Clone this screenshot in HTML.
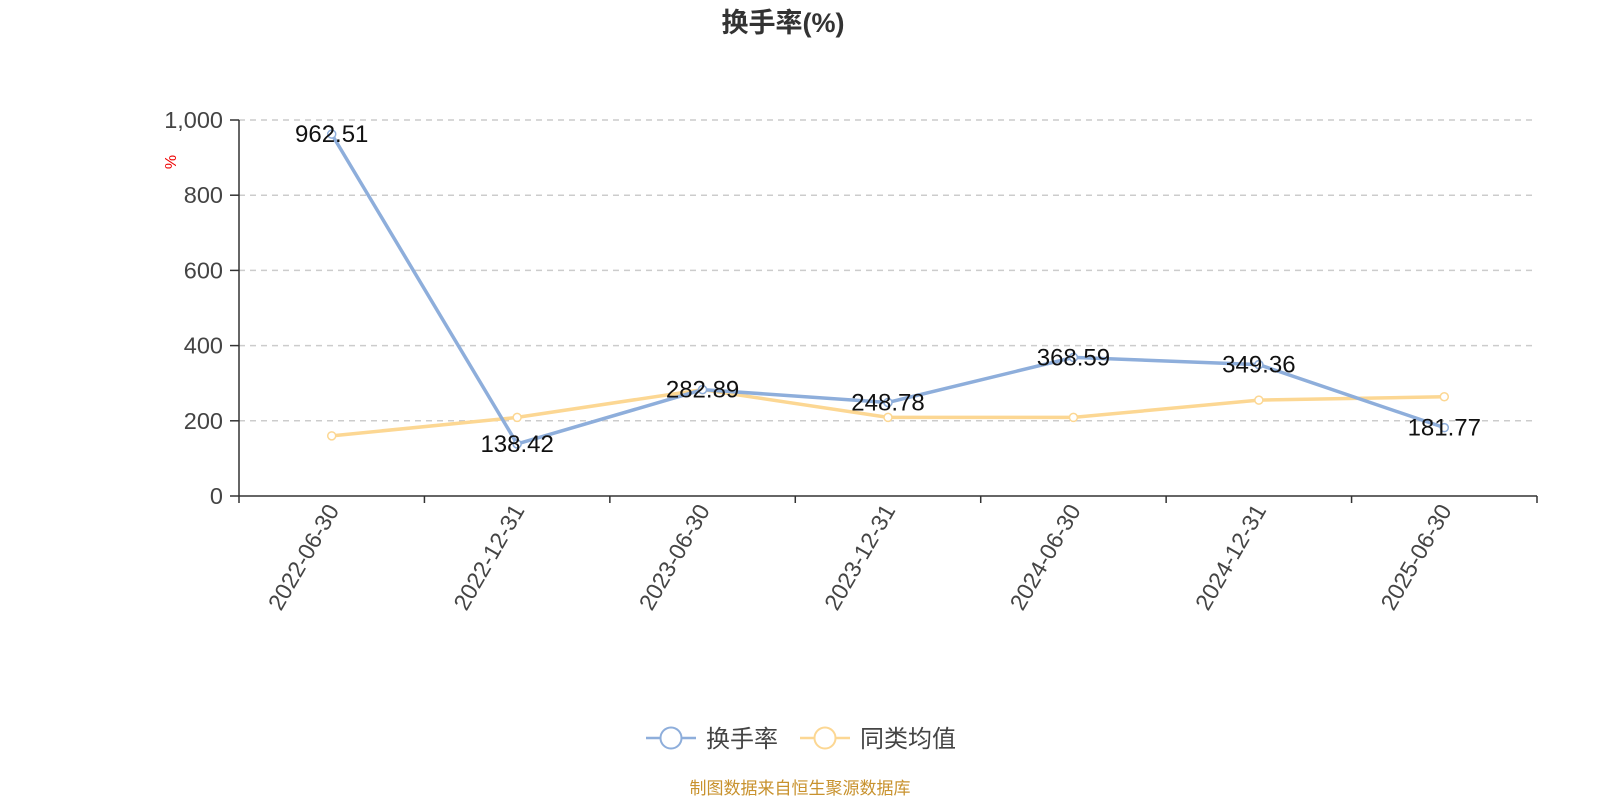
<!DOCTYPE html>
<html><head><meta charset="utf-8"><style>
body{margin:0;background:#fff;}
svg{display:block;font-family:"Liberation Sans","Noto Sans CJK SC",sans-serif;}
</style></head><body>
<svg id="c" width="1600" height="800">
<text x="783" y="32" text-anchor="middle" font-size="27" font-weight="bold" fill="#333">换手率(%)</text>
<text transform="translate(176,162) rotate(-90)" text-anchor="middle" font-size="16" fill="#e00">%</text>
<g id="grid"></g>
<g id="axes"></g>
<g id="series"></g>
<g>
<g>
<line x1="646" y1="738" x2="696" y2="738" stroke="#8eaedb" stroke-width="2.5"/>
<circle cx="671" cy="738" r="10.5" fill="#fff" stroke="#8eaedb" stroke-width="2"/>
<text x="706" y="747" font-size="24" fill="#444">换手率</text></g>
<g>
<line x1="800" y1="738" x2="850" y2="738" stroke="#fcd793" stroke-width="2.5"/>
<circle cx="825" cy="738" r="10.5" fill="#fff" stroke="#fcd793" stroke-width="2"/>
<text x="860" y="747" font-size="24" fill="#444">同类均值</text></g>
</g>
<text x="800" y="794" text-anchor="middle" font-size="17" fill="#c8922e">制图数据来自恒生聚源数据库</text>
</svg>
<script>
const categories=["2022-06-30","2022-12-31","2023-06-30","2023-12-31","2024-06-30","2024-12-31","2025-06-30"];
const turnover=[962.51,138.42,282.89,248.78,368.59,349.36,181.77];
const peerAvg=[160,209,283,209,209,255,264];
const yTicks=[0,200,400,600,800,1000];
const yTickLabels=["0","200","400","600","800","1,000"];
const NS="http://www.w3.org/2000/svg";
const L=239,R=1537,T=120,B=496,yMax=1000;
const bw=(R-L)/categories.length;
const x=i=>L+bw*(i+0.5);
const y=v=>B-(v/yMax)*(B-T);
function mk(tag,at,parent,txt){const e=document.createElementNS(NS,tag);for(const k in at)e.setAttribute(k,at[k]);if(txt!==undefined)e.textContent=txt;parent.appendChild(e);return e;}
const grid=document.getElementById('grid'),axes=document.getElementById('axes'),ser=document.getElementById('series');
yTicks.forEach((t,i)=>{
 if(t>0){const g=mk('line',{x1:L,x2:R,y1:y(t),y2:y(t),stroke:'#ccc','stroke-dasharray':'6,5','stroke-width':1.5},grid);
 
 }
 mk('line',{x1:L-9,x2:L,y1:y(t),y2:y(t),stroke:'#333','stroke-width':1.5},axes);
 const tl=mk('text',{x:L-16,y:y(t)+8,'text-anchor':'end','font-size':23.5,fill:'#444'},axes,yTickLabels[i]);
 
 
});
mk('line',{x1:L,x2:L,y1:T,y2:B,stroke:'#333','stroke-width':1.5},axes);
mk('line',{x1:L,x2:R,y1:B,y2:B,stroke:'#333','stroke-width':1.5},axes);
for(let i=0;i<=categories.length;i++)mk('line',{x1:L+bw*i,x2:L+bw*i,y1:B,y2:B+7,stroke:'#333','stroke-width':1.5},axes);
categories.forEach((c,i)=>{
 const t=mk('text',{transform:`translate(${x(i)+8},${B+14}) rotate(-60)`,'text-anchor':'end','font-size':23,fill:'#444'},axes,c);
 
 
});
function drawSeries(vals,color,name,labels){
 const p=mk('polyline',{points:vals.map((v,i)=>x(i)+','+y(v)).join(' '),fill:'none',stroke:color,'stroke-width':3.5},ser);
 
 
 vals.forEach((v,i)=>{
  const c=mk('circle',{cx:x(i),cy:y(v),r:4,fill:'#fff',stroke:color,'stroke-width':1.5},ser);
  
  
 });
 if(labels)vals.forEach((v,i)=>{
  const t=mk('text',{x:x(i),y:y(v)+8,'text-anchor':'middle','font-size':24,fill:'#111'},ser,v.toFixed(2));
  
  
 });
}
drawSeries(peerAvg,'#fcd793','peer-average',false);
drawSeries(turnover,'#8eaedb','turnover',true);
</script>
</body></html>
